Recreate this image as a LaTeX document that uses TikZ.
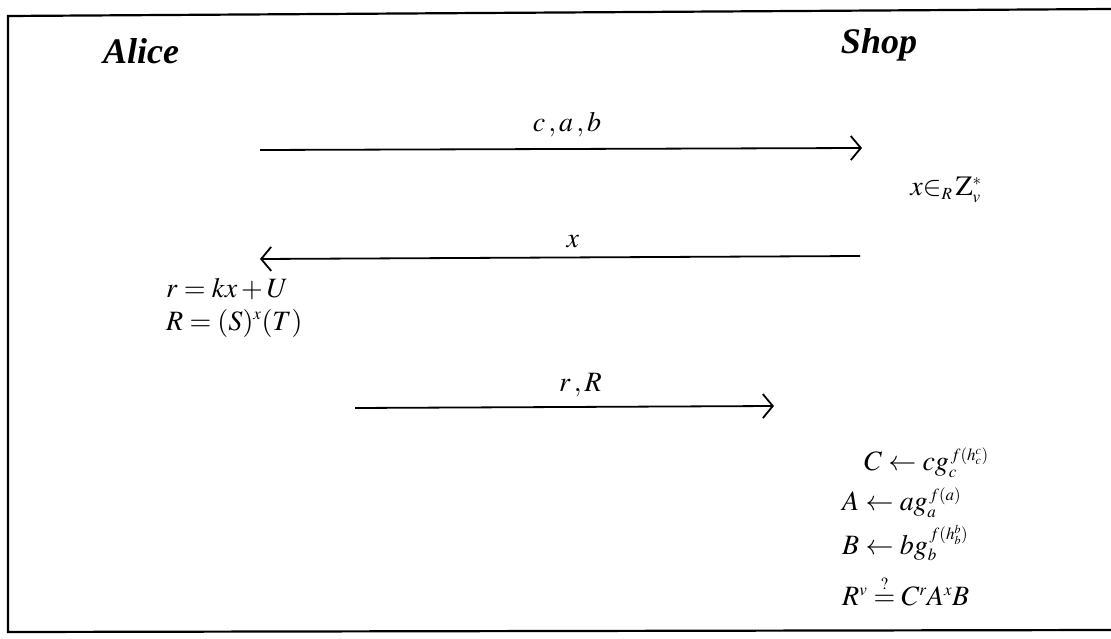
\documentclass[tikz,border=0pt]{standalone}
\usepackage{mathptmx}
\usepackage[no-math]{fontspec}
\setmainfont{Liberation Serif}
\usetikzlibrary{arrows.meta}
\DeclareMathSizes{28}{28}{17}{12}
\begin{document}
\begin{tikzpicture}[x=1pt,y=-1pt,
  party/.style={font=\fontsize{36}{40}\selectfont\bfseries\itshape, inner sep=0pt},
  eq/.style={font=\fontsize{28}{33}\selectfont, inner sep=0pt},
  msg/.style={line width=1.8pt, -{Straight Barb[length=10pt,width=24pt,line width=1.8pt]}},
  frame/.style={line width=2.2pt}]
\useasboundingbox (0,0) rectangle (1111,639);
\draw[frame] (1112,9) -- (8,16) -- (8,632) -- (1112,630);
\node[party] (alice) at (141,51) {Alice};
\node[party] (shop) at (879,45) {Shop};
% message 1
\coordinate (m1s) at (260,150);
\coordinate (m1e) at (862,148);
\draw[msg] (m1s) -- (m1e) node[eq, midway, above=11pt, xshift=6pt] {$c\,,a\,,b$};
\node[eq] (xr) at (946,190) {$x{\in}_R\,\mathrm{Z}_v^*$};
% message 2
\coordinate (m2s) at (860,256);
\coordinate (m2e) at (260,259);
\draw[msg] (m2s) -- (m2e) node[eq, midway, above=9pt, xshift=13pt] {$x$};
\node[eq, anchor=west] (r1) at (166,289) {$r = kx + U$};
\node[eq, anchor=west] (r2) at (166,323) {$R = (S)^x(T)$};
% message 3
\coordinate (m3s) at (355,408);
\coordinate (m3e) at (774,406);
\draw[msg] (m3s) -- (m3e) node[eq, midway, above=9pt, xshift=16pt] {$r\,,R$};
\node[eq, anchor=west] (c1) at (864,463) {$C \leftarrow c g_c^{\,f(h_c^c)}$};
\node[eq, anchor=west] (c2) at (842,503) {$A \leftarrow a g_a^{\,f(a)}$};
\node[eq, anchor=west] (c3) at (842,543) {$B \leftarrow b g_b^{\,f(h_b^b)}$};
\node[eq, anchor=west] (c4) at (842,591) {$R^v \stackrel{?}{=} C^r A^x B$};
\end{tikzpicture}
\end{document}
